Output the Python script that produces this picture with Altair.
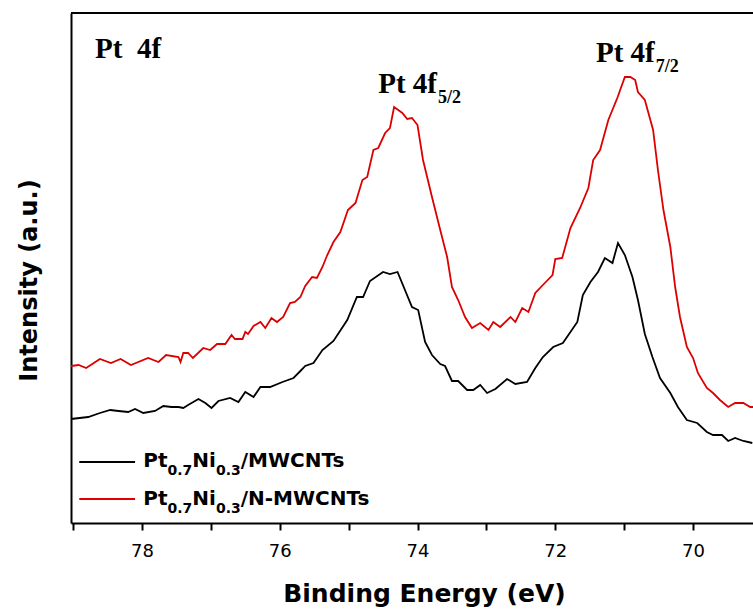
import altair as alt
import pandas as pd

# ---- data (binding energy in eV, intensity in a.u.) ----
red_x = [79.03, 78.92, 78.81, 78.61, 78.45, 78.31, 78.16, 77.91, 77.76, 77.65, 77.47, 77.44, 77.40, 77.33,
         77.26, 77.11, 77.01, 76.91, 76.79, 76.70, 76.65, 76.54, 76.50, 76.46, 76.38, 76.28, 76.21, 76.12,
         76.04, 75.95, 75.85, 75.78, 75.70, 75.63, 75.53, 75.46, 75.38, 75.31, 75.22, 75.12, 75.01, 74.90,
         74.80, 74.73, 74.64, 74.57, 74.47, 74.40, 74.34, 74.22, 74.15, 74.08, 74.00, 73.92, 73.79, 73.67,
         73.57, 73.50, 73.41, 73.31, 73.21, 73.09, 72.97, 72.90, 72.80, 72.65, 72.58, 72.48, 72.39, 72.29,
         72.18, 72.04, 72.00, 71.90, 71.78, 71.64, 71.52, 71.45, 71.35, 71.23, 71.10, 70.99, 70.91, 70.84,
         70.80, 70.70, 70.58, 70.51, 70.43, 70.33, 70.26, 70.19, 70.09, 70.00, 69.93, 69.80, 69.71, 69.61,
         69.49, 69.39, 69.27, 69.17, 69.13]
red_y = [157, 158, 155, 164, 160, 164, 158, 165, 161, 168, 166, 161, 170, 170,
         165, 175, 173, 179, 179, 188, 184, 184, 191, 189, 197, 201, 195, 205,
         201, 206, 220, 221, 226, 237, 246, 245, 256, 268, 281, 291, 313, 320,
         343, 346, 373, 375, 390, 395, 416, 410, 404, 405, 398, 363, 326, 293,
         266, 236, 223, 206, 195, 200, 193, 201, 196, 206, 201, 215, 211, 230,
         238, 248, 264, 265, 295, 315, 335, 363, 373, 403, 425, 446, 446, 443,
         431, 423, 393, 353, 313, 276, 236, 206, 176, 165, 150, 135, 130, 123,
         116, 120, 120, 116, 116]

black_x = [79.03, 78.78, 78.61, 78.46, 78.34, 78.20, 78.10, 77.98, 77.81, 77.69, 77.57, 77.47, 77.40, 77.33,
           77.18, 77.08, 76.99, 76.89, 76.72, 76.60, 76.50, 76.38, 76.28, 76.14, 75.96, 75.80, 75.70, 75.63,
           75.51, 75.38, 75.22, 75.02, 74.88, 74.79, 74.69, 74.50, 74.40, 74.29, 74.08, 73.99, 73.89, 73.79,
           73.67, 73.60, 73.50, 73.41, 73.28, 73.19, 73.09, 72.99, 72.87, 72.70, 72.58, 72.41, 72.29, 72.18,
           72.03, 71.89, 71.68, 71.60, 71.49, 71.38, 71.28, 71.17, 71.09, 70.99, 70.88, 70.80, 70.70, 70.59,
           70.48, 70.33, 70.22, 70.09, 69.94, 69.80, 69.71, 69.58, 69.49, 69.39, 69.27, 69.14]
black_y = [104, 106, 110, 113, 112, 111, 114, 110, 112, 117, 116, 116, 115, 118,
           124, 120, 115, 122, 125, 121, 131, 126, 136, 136, 141, 145, 152, 157,
           160, 173, 182, 203, 226, 226, 242, 251, 249, 251, 216, 213, 181, 168,
           159, 157, 142, 142, 133, 133, 138, 130, 134, 144, 139, 141, 155, 166,
           176, 180, 201, 228, 241, 251, 265, 260, 280, 268, 246, 223, 189, 166,
           145, 130, 116, 103, 100, 91, 88, 88, 82, 85, 82, 80]

tick_values = [70, 71, 72, 73, 74, 75, 76, 77, 78, 79]
x_domain = [79.03, 69.13]
y_domain = [0, 510]

# annotation anchors (data coordinates)
peak_labels = ["Pt\u00a0\u00a04f", "Pt 4f", "Pt 4f"]
peak_subs = ["", "5/2", "7/2"]
peak_x = [78.68, 74.57, 71.41]
peak_y = [465, 430, 461]

legend_names = ["/MWCNTs", "/N-MWCNTs"]
legend_colors = ["black", "#dd0000"]
legend_line_x = [78.91, 78.10]
legend_line_y = [61, 24]
legend_text_x = 77.98
legend_text_y = [56, 18]

# ---- chart ----
xs = alt.Scale(domain=x_domain, nice=False, zero=False)
ys = alt.Scale(domain=y_domain, nice=False, zero=False)

black_df = pd.DataFrame({"eV": black_x, "I": black_y})
red_df = pd.DataFrame({"eV": red_x, "I": red_y})

SANS = "DejaVu Sans"
SERIF = "Liberation Serif"

bottom_axis = alt.Axis(
    values=tick_values, format="d",
    labelExpr="datum.value % 2 == 0 ? datum.label : ''",
    tickSize=7, tickWidth=2, tickColor="black",
    domainColor="black", domainWidth=2, grid=False,
    labelFont=SANS, labelFontSize=18, labelColor="black", labelPadding=12,
    labelFlush=False, labelOverlap=False,
    title="Binding Energy (eV)", titleFont=SANS, titleFontSize=25, titleFontWeight="bold",
    titleColor="black", titleX=353, titleY=78, titleAlign="center", titleBaseline="alphabetic",
)
left_axis = alt.Axis(
    ticks=False, labels=False, domainColor="black", domainWidth=2, grid=False,
    title="Intensity (a.u.)", titleFont=SANS, titleFontSize=24, titleFontWeight="bold",
    titleColor="black", titleAngle=270, titleX=-35, titleY=267, titleAlign="center",
    titleBaseline="alphabetic",
)

black_line = alt.Chart(black_df).mark_line(color="black", strokeWidth=1.8).encode(
    x=alt.X("eV:Q", scale=xs, axis=bottom_axis),
    y=alt.Y("I:Q", scale=ys, axis=left_axis),
)
red_line = alt.Chart(red_df).mark_line(color="#dd0000", strokeWidth=1.8).encode(
    x=alt.X("eV:Q", scale=xs),
    y=alt.Y("I:Q", scale=ys),
)

# top frame line along the upper edge of the plot
frame_df = pd.DataFrame({"eV": [x_domain[0]], "eV2": [x_domain[1]], "I": [y_domain[1]]})
top_frame = alt.Chart(frame_df).mark_rule(color="black", strokeWidth=2).encode(
    x=alt.X("eV:Q", scale=xs), x2="eV2:Q", y=alt.Y("I:Q", scale=ys))

layers = [top_frame, black_line, red_line]


def text_layer(x, y, text, font, size, dx=0, dy=0):
    d = pd.DataFrame({"eV": [x], "I": [y]})
    return alt.Chart(d).mark_text(
        text=text, font=font, fontSize=size, fontWeight="bold", align="left",
        baseline="alphabetic", dx=dx, dy=dy, color="black",
    ).encode(x=alt.X("eV:Q", scale=xs), y=alt.Y("I:Q", scale=ys))


# Times-bold widths (em) for peak label subscripts offset
times_bold = {"P": 0.611, "t": 0.333, " ": 0.25, "\u00a0": 0.25, "4": 0.5, "f": 0.333}
for lab, sub, px, py in zip(peak_labels, peak_subs, peak_x, peak_y):
    layers.append(text_layer(px, py, lab, SERIF, 29))
    if sub:
        w = sum(times_bold[c] for c in lab) * 29
        layers.append(text_layer(px, py, sub, SERIF, 18, dx=w + 1, dy=10))

# DejaVu Sans Bold widths (em)
dv_bold = {"P": 0.733, "t": 0.478, "N": 0.837, "i": 0.343, "/": 0.365, "M": 0.995, "W": 1.048,
           "C": 0.734, "T": 0.682, "s": 0.595, "-": 0.415, "0": 0.696, ".": 0.380, "7": 0.696,
           "3": 0.696}

for name, col, ly, ty in zip(legend_names, legend_colors, legend_line_y, legend_text_y):
    ldf = pd.DataFrame({"eV": [legend_line_x[0]], "eV2": [legend_line_x[1]], "I": [ly]})
    layers.append(alt.Chart(ldf).mark_rule(color=col, strokeWidth=2).encode(
        x=alt.X("eV:Q", scale=xs), x2="eV2:Q",
        y=alt.Y("I:Q", scale=ys)))
    pieces = [("Pt", 20, 0), ("0.7", 14, 8), ("Ni", 20, 0), ("0.3", 14, 8), (name, 20, 0)]
    off = 0.0
    for t, s, dy in pieces:
        layers.append(text_layer(legend_text_x, ty, t, SANS, s, dx=off, dy=dy))
        off += sum(dv_bold[c] for c in t) * s

chart = alt.layer(*layers).properties(
    width=682, height=510,
    autosize=alt.AutoSizeParams(type="none"),
    padding={"left": 71, "top": 13, "right": 0, "bottom": 89},
    background="white",
).configure_view(stroke=None)

chart.save("out.html", embed_options={"renderer": "svg", "actions": False})
